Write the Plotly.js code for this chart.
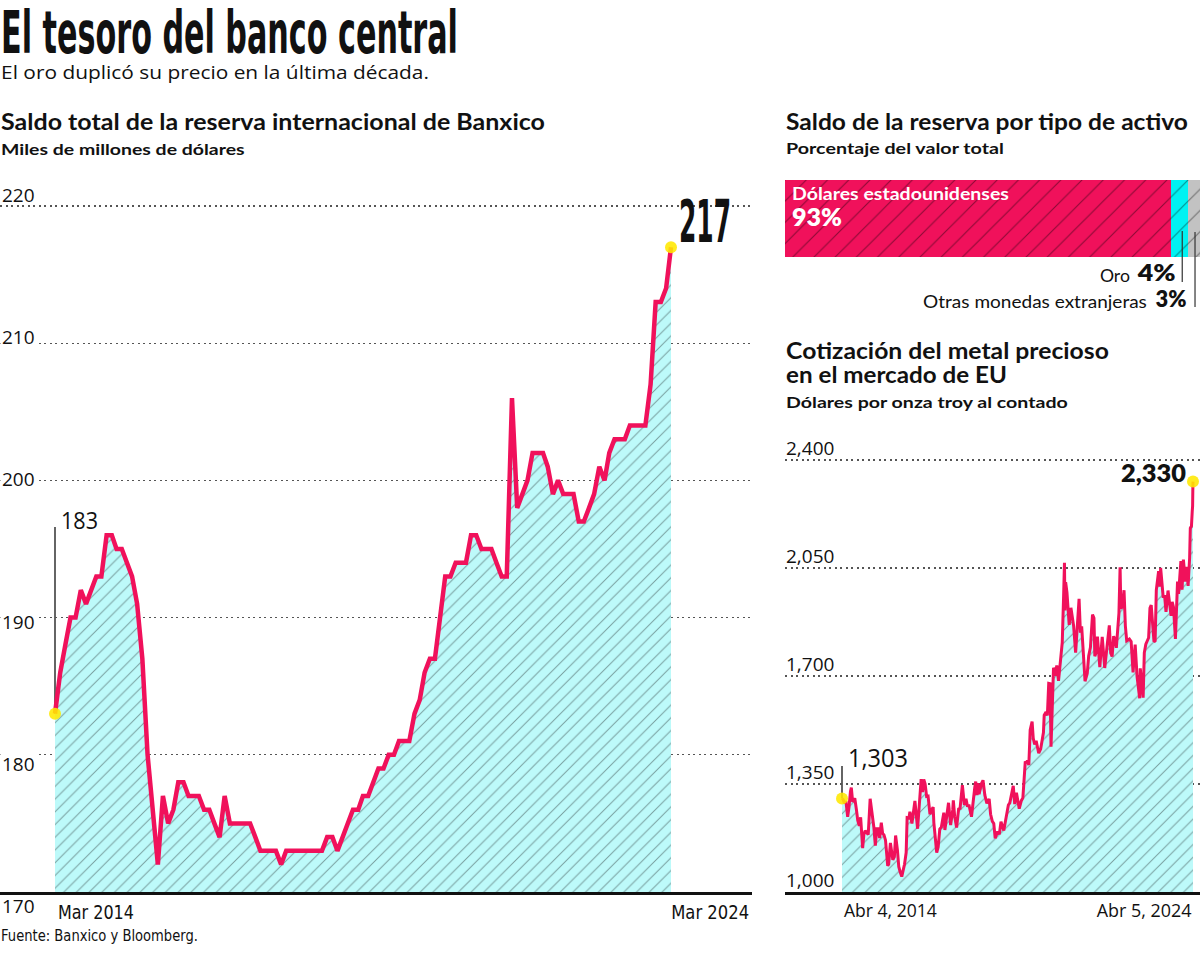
<!DOCTYPE html>
<html>
<head>
<meta charset="utf-8">
<script src="https://cdn.plot.ly/plotly-3.0.1.min.js"></script>
<style>
  html, body { margin: 0; padding: 0; background: #fff; }
  #chart { width: 1200px; height: 972px; }
</style>
</head>
<body>
<div id="chart"></div>
<script>
// ---------------- DATA ----------------
// Saldo total de la reserva internacional (miles de millones de dólares), mensual mar 2014 - mar 2024
const reserveStart = [2014, 3];
const reserveValues = [
  183, 186, 188, 190, 190, 192, 191, 192, 193, 193,
  196, 196, 195, 195, 194, 193, 191, 187, 180, 176,
  172, 177, 175, 176, 178, 178, 177, 177, 177, 176,
  176, 175, 174, 177, 175, 175, 175, 175, 175, 174,
  173, 173, 173, 173, 172, 173, 173, 173, 173, 173,
  173, 173, 173, 174, 174, 173, 174, 175, 176, 176,
  177, 177, 178, 179, 179, 180, 180, 181, 181, 181,
  183, 184, 186, 187, 187, 190, 193, 193, 194, 194,
  194, 196, 196, 195, 195, 195, 194, 193, 193, 206,
  198, 199, 200, 202, 202, 202, 201, 199, 200, 199,
  199, 199, 197, 197, 198, 199, 201, 200, 202, 203,
  203, 203, 204, 204, 204, 204, 207, 213, 213, 214,
  217
];
const reserveTickValues = [170, 180, 190, 200, 210, 220];
const reserveTickLabels = ['170', '180', '190', '200', '210', '220'];
const reserveAxisLabels = ['Mar 2014', 'Mar 2024'];

// Saldo de la reserva por tipo de activo (%)
const assetNames = ['Dólares estadounidenses', 'Oro', 'Otras monedas extranjeras'];
const assetShares = [93, 4, 3];

// Cotización del oro (dólares por onza troy al contado)
const goldDates = [
  '2014-04-04','2014-04-15','2014-05-01','2014-05-15','2014-06-02','2014-06-16','2014-07-01','2014-07-10','2014-07-24','2014-08-01',
  '2014-08-15','2014-09-02','2014-09-15','2014-10-01','2014-10-15','2014-11-05','2014-11-17','2014-12-01','2014-12-15',
  '2015-01-02','2015-01-22','2015-02-02','2015-02-16','2015-03-02','2015-03-17','2015-04-01','2015-04-15','2015-05-01','2015-05-18',
  '2015-06-01','2015-06-15','2015-07-01','2015-07-24','2015-08-03','2015-08-21','2015-09-01','2015-09-15','2015-10-01','2015-10-14',
  '2015-11-02','2015-11-16','2015-12-01','2015-12-17',
  '2016-01-04','2016-01-15','2016-02-01','2016-02-11','2016-03-01','2016-03-11','2016-04-01','2016-04-29','2016-05-02','2016-05-30',
  '2016-06-15','2016-06-24','2016-07-06','2016-07-20','2016-08-02','2016-08-16','2016-09-01','2016-09-16','2016-10-06','2016-10-20',
  '2016-11-08','2016-11-15','2016-12-01','2016-12-15','2016-12-30',
  '2017-01-16','2017-02-01','2017-02-27','2017-03-10','2017-03-31','2017-04-17','2017-05-09','2017-05-31','2017-06-06','2017-06-20',
  '2017-07-10','2017-07-31','2017-08-15','2017-09-08','2017-09-29','2017-10-16','2017-11-01','2017-11-15','2017-12-12','2017-12-29',
  '2018-01-15','2018-01-25','2018-02-08','2018-02-16','2018-03-01','2018-03-26','2018-04-11','2018-04-30','2018-05-21','2018-06-14',
  '2018-06-29','2018-07-17','2018-08-01','2018-08-16','2018-09-10','2018-09-28','2018-10-15','2018-11-13','2018-12-03','2018-12-31',
  '2019-01-15','2019-01-31','2019-02-20','2019-03-07','2019-03-25','2019-04-23','2019-05-15','2019-05-31','2019-06-20','2019-06-25',
  '2019-07-03','2019-07-17','2019-08-01','2019-08-15','2019-09-04','2019-09-16','2019-10-01','2019-10-16','2019-11-12','2019-12-02',
  '2019-12-31',
  '2020-01-08','2020-01-27','2020-02-10','2020-02-24','2020-03-09','2020-03-19','2020-04-01','2020-04-14','2020-05-01','2020-05-18',
  '2020-06-05','2020-06-30','2020-07-14','2020-07-28','2020-08-06','2020-08-11','2020-08-18','2020-09-01','2020-09-24','2020-10-12',
  '2020-10-30','2020-11-09','2020-11-30','2020-12-16',
  '2021-01-05','2021-01-19','2021-02-01','2021-02-18','2021-03-08','2021-03-31','2021-04-15','2021-05-03','2021-05-25','2021-06-09',
  '2021-06-18','2021-07-01','2021-07-15','2021-08-09','2021-08-26','2021-09-03','2021-09-29','2021-10-20','2021-11-08','2021-11-16',
  '2021-11-30','2021-12-15','2021-12-31',
  '2022-01-18','2022-01-28','2022-02-15','2022-02-24','2022-03-08','2022-03-16','2022-04-01','2022-04-18','2022-05-02','2022-05-16',
  '2022-06-13','2022-07-01','2022-07-21','2022-08-01','2022-08-12','2022-09-01','2022-09-28','2022-10-04','2022-10-21','2022-11-03',
  '2022-11-15','2022-12-01','2022-12-30',
  '2023-01-13','2023-01-26','2023-02-24','2023-03-08','2023-03-20','2023-04-13','2023-04-28','2023-05-04','2023-05-30','2023-06-15',
  '2023-06-29','2023-07-20','2023-08-08','2023-08-21','2023-09-01','2023-09-15','2023-10-05','2023-10-27','2023-11-07','2023-11-29',
  '2023-12-01','2023-12-04','2023-12-13','2023-12-27',
  '2024-01-17','2024-02-01','2024-02-14','2024-03-01','2024-03-08','2024-03-20','2024-03-28','2024-04-01','2024-04-03','2024-04-05'
];
const goldValues = [
  1303, 1300, 1288, 1294, 1244, 1275, 1326, 1338, 1292, 1295,
  1304, 1265, 1232, 1214, 1242, 1142, 1185, 1199, 1194,
  1186, 1302, 1276, 1226, 1209, 1150, 1205, 1205, 1175, 1225,
  1190, 1185, 1168, 1085, 1090, 1159, 1140, 1104, 1114, 1183,
  1136, 1082, 1065, 1050,
  1075, 1090, 1128, 1241, 1240, 1260, 1222, 1290, 1295, 1205,
  1287, 1317, 1366, 1324, 1365, 1351, 1310, 1311, 1252, 1265,
  1275, 1225, 1170, 1128, 1146,
  1204, 1210, 1257, 1201, 1245, 1289, 1217, 1266, 1297, 1245,
  1209, 1269, 1271, 1346, 1282, 1302, 1276, 1283, 1244, 1302,
  1338, 1358, 1314, 1353, 1317, 1352, 1362, 1314, 1287, 1302,
  1252, 1229, 1222, 1174, 1196, 1187, 1228, 1199, 1232, 1282,
  1289, 1320, 1344, 1285, 1322, 1270, 1296, 1305, 1397, 1423,
  1418, 1425, 1412, 1525, 1552, 1498, 1478, 1490, 1450, 1463,
  1517,
  1573, 1583, 1572, 1676, 1675, 1471, 1591, 1727, 1701, 1734,
  1684, 1781, 1809, 1959, 2067, 1912, 2004, 1970, 1866, 1921,
  1879, 1863, 1776, 1864,
  1950, 1840, 1861, 1776, 1683, 1708, 1765, 1792, 1899, 1888,
  1764, 1776, 1828, 1729, 1792, 1827, 1726, 1783, 1824, 1864,
  1775, 1763, 1829,
  1814, 1791, 1855, 1904, 2052, 1919, 1924, 1978, 1862, 1814,
  1820, 1812, 1712, 1772, 1802, 1697, 1628, 1725, 1657, 1630,
  1775, 1803, 1824,
  1920, 1930, 1811, 1814, 1978, 2040, 1990, 2050, 1958, 1958,
  1908, 1977, 1925, 1895, 1940, 1923, 1820, 2006, 1966, 2044,
  2072, 2058, 1980, 2077,
  2006, 2054, 1992, 2083, 2179, 2186, 2233, 2251, 2300, 2330
];
const goldTickValues = [1000, 1350, 1700, 2050, 2400];
const goldTickLabels = ['1,000', '1,350', '1,700', '2,050', '2,400'];
const goldAxisLabels = ['Abr 4, 2014', 'Abr 5, 2024'];

// ---------------- HELPERS / STYLE ----------------
const W = 1200, H = 972;
const PX = x => x / W;
const PY = y => 1 - y / H;
const NARROW = '"Liberation Sans Narrow", "DejaVu Sans Condensed", "Liberation Sans", sans-serif';
const SANS = 'Lato, "Open Sans", "Noto Sans", sans-serif';
const OPEN = '"Open Sans", "Noto Sans", sans-serif';
const PINK = '#F0115B';
const FILLBG = '#BDFAFA';
const HATCH = '#789F9F';
const YELLOW = 'rgba(255,232,0,0.88)';

const reserveDates = reserveValues.map((_, i) => {
  const m0 = reserveStart[1] - 1 + i;
  const y = reserveStart[0] + Math.floor(m0 / 12);
  const m = (m0 % 12) + 1;
  return y + '-' + String(m).padStart(2, '0') + '-01';
});
const last = a => a[a.length - 1];
const fmt = v => v.toLocaleString('en-US');
const msStr = ms => new Date(ms).toISOString().slice(0, 19).replace('T', ' ');

// pixel geometry of the panels (yTop is the pixel of value y1)
const L = { x0: 0, x1: 752, yTop: 206, yBot: 892, dataX0: 55, dataX1: 671, y0: 170, y1: 220, pad: 1 };
const G = { x0: 785, x1: 1200, yTop: 460, yBot: 892, dataX0: 842, dataX1: 1193, y0: 1000, y1: 2400, pad: 30 };
const B = { x0: 785, x1: 1200, yTop: 180, yBot: 257 };

const tL0 = Date.parse(reserveDates[0] + 'T00:00:00Z'), tL1 = Date.parse(last(reserveDates) + 'T00:00:00Z');
const kL = (tL1 - tL0) / (L.dataX1 - L.dataX0);
const leftRange = [msStr(tL0 - (L.dataX0 - L.x0) * kL), msStr(tL0 + (L.x1 - L.dataX0) * kL)];
const tG0 = Date.parse(goldDates[0] + 'T00:00:00Z'), tG1 = Date.parse(last(goldDates) + 'T00:00:00Z');
const kG = (tG1 - tG0) / (G.dataX1 - G.dataX0);
const goldRange = [msStr(tG0 - (G.dataX0 - G.x0) * kG), msStr(tG0 + (G.x1 - G.dataX0) * kG)];

const valL = py => L.y0 + (L.yBot - py) / (L.yBot - L.yTop) * (L.y1 - L.y0);
const valG = py => G.y0 + (G.yBot - py) / (G.yBot - G.yTop) * (G.y1 - G.y0);
// extend the top of each value axis a little so the top gridline is drawn
const pixL = (L.yBot - L.yTop) / (L.y1 - L.y0);
const pixG = (G.yBot - G.yTop) / (G.y1 - G.y0);
const topPxL = L.yTop - L.pad * pixL;
const topPxG = G.yTop - G.pad * pixG;

// ---------------- TRACES ----------------
const data = [
  {
    type: 'scatter', mode: 'lines', x: reserveDates, y: reserveValues, xaxis: 'x', yaxis: 'y',
    line: { color: PINK, width: 4.5 }, fill: 'tozeroy', fillcolor: FILLBG,
    fillpattern: { shape: '/', bgcolor: FILLBG, fgcolor: HATCH, size: 9, solidity: 0.11 },
    hoverinfo: 'skip'
  },
  {
    type: 'scatter', mode: 'markers', x: [reserveDates[0], last(reserveDates)], y: [reserveValues[0], last(reserveValues)],
    xaxis: 'x', yaxis: 'y', marker: { color: YELLOW, size: 12 }, cliponaxis: false
  },
  {
    type: 'scatter', mode: 'lines', x: goldDates, y: goldValues, xaxis: 'x2', yaxis: 'y2',
    line: { color: PINK, width: 3 }, fill: 'tozeroy', fillcolor: FILLBG,
    fillpattern: { shape: '/', bgcolor: FILLBG, fgcolor: HATCH, size: 9, solidity: 0.11 },
    hoverinfo: 'skip'
  },
  {
    type: 'scatter', mode: 'markers', x: [goldDates[0], last(goldDates)], y: [goldValues[0], last(goldValues)],
    xaxis: 'x2', yaxis: 'y2', marker: { color: YELLOW, size: 12 }, cliponaxis: false
  }
];
const barColors = ['#F0115B', '#00F2F2', '#C2C2C2'];
assetNames.forEach((n, i) => {
  data.push({
    type: 'bar', orientation: 'h', name: n, x: [assetShares[i]], y: [0], xaxis: 'x3', yaxis: 'y3', width: 1,
    marker: { color: barColors[i], line: { width: 0 },
      pattern: { shape: '/', bgcolor: barColors[i], fgcolor: 'rgba(0,0,0,0.42)', size: 15, solidity: 0.07, fillmode: 'replace' } },
    hoverinfo: 'skip'
  });
});

// ---------------- TEXT ----------------
const annotations = [];
const fits = {};
function txt(text, x, y, o = {}) {
  const a = {
    text,
    xref: o.xref || 'paper', yref: o.yref || 'paper',
    x: o.xref ? x : PX(x), y: o.yref ? y : PY(y),
    xanchor: o.anchor || 'left', yanchor: 'middle', showarrow: false,
    borderpad: o.pad !== undefined ? o.pad : 0,
    font: { family: o.family || SANS, size: o.size || 16, color: o.color || '#111', weight: o.weight || 400 }
  };
  if (o.xshift) a.xshift = o.xshift;
  if (o.yshift) a.yshift = o.yshift;
  if (o.bg) a.bgcolor = o.bg;
  if (o.fit) fits[annotations.length] = { w: o.fit, anchor: a.xanchor };
  annotations.push(a);
}

// headline
txt('El tesoro del banco central', 0, 33, { family: NARROW, size: 58, weight: 700, fit: 457 });
txt('El oro duplicó su precio en la última década.', 0, 72, { family: OPEN, size: 18, weight: 400, fit: 428 });

// left panel headings
txt('Saldo total de la reserva internacional de Banxico', 0, 121.5, { size: 22, weight: 700, fit: 544 });
txt('Miles de millones de dólares', 0, 149, { size: 15.5, weight: 700, fit: 244 });

// right panel headings
txt('Saldo de la reserva por tipo de activo', 785, 121.5, { size: 22, weight: 700, fit: 402 });
txt('Porcentaje del valor total', 785, 148, { size: 15.5, weight: 700, fit: 218 });
txt('Cotización del metal precioso', 785, 350, { size: 22, weight: 700, fit: 323 });
txt('en el mercado de EU', 785, 375, { size: 22, weight: 700, fit: 221 });
txt('Dólares por onza troy al contado', 785, 401.5, { size: 15.5, weight: 700, fit: 282 });

// bar labels
txt(assetNames[0], 791, 193.5, { size: 17, weight: 700, color: '#fff', fit: 217 });
txt(assetShares[0] + '%', 791, 216, { size: 24, weight: 800, color: '#fff', fit: 50 });
txt(assetNames[1], 1131, 275, { size: 17, weight: 400, anchor: 'right', fit: 30 });
txt(assetShares[1] + '%', 1177, 272, { size: 23, weight: 800, anchor: 'right', fit: 39 });
txt(assetNames[2], 1148, 301, { size: 17, weight: 400, anchor: 'right', fit: 224 });
txt(assetShares[2] + '%', 1188, 298, { size: 23, weight: 800, anchor: 'right', fit: 31 });

// left chart tick labels
reserveTickValues.forEach((v, i) => {
  txt(reserveTickLabels[i], 0, v, { yref: 'y', family: OPEN, size: 19, yshift: (v - 200) * 0.5 + 1,
    bg: (v === 220 || v === 170) ? null : '#ffffff', pad: 1 });
});
// left chart value labels
txt(String(reserveValues[0]), 60, 519, { family: OPEN, size: 24, fit: 37 });
txt(String(last(reserveValues)), 678, 222, { family: NARROW, size: 58, weight: 700, fit: 52 });
// left chart date labels
txt(reserveAxisLabels[0], reserveDates[0], 912, { xref: 'x', family: NARROW, size: 19, fit: 76, xshift: 2 });
txt(reserveAxisLabels[1], 750, 912, { family: NARROW, size: 19, anchor: 'right', fit: 78 });

// gold chart tick labels
goldTickValues.forEach((v, i) => {
  txt(goldTickLabels[i], 785, v, { yref: 'y2', family: OPEN, size: 19, yshift: 12 });
});
txt(fmt(goldValues[0]), 847, 757, { family: OPEN, size: 25, fit: 60 });
txt(fmt(last(goldValues)), 1187, 472, { size: 25, weight: 800, anchor: 'right', fit: 65 });
txt(goldAxisLabels[0], goldDates[0], 910, { xref: 'x2', family: OPEN, size: 19, fit: 93, xshift: 1 });
txt(goldAxisLabels[1], last(goldDates), 910, { xref: 'x2', family: OPEN, size: 19, anchor: 'right', fit: 95 });

// source
txt('Fuente: Banxico y Bloomberg.', 0, 936, { family: NARROW, size: 15, fit: 197 });

// ---------------- SHAPES ----------------
const shapes = [
  { type: 'line', xref: 'x', yref: 'y', x0: reserveDates[0], x1: reserveDates[0],
    y0: reserveValues[0], y1: valL(527), line: { color: '#111', width: 1.3 }, layer: 'below' },
  { type: 'line', xref: 'x2', yref: 'y2', x0: goldDates[0], x1: goldDates[0],
    y0: goldValues[0], y1: valG(766), line: { color: '#111', width: 1.3 }, layer: 'below' },
  { type: 'line', xref: 'x3', yref: 'paper',
    x0: assetShares[0] + assetShares[1] * 0.68, x1: assetShares[0] + assetShares[1] * 0.68,
    y0: PY(231), y1: PY(282), line: { color: '#333', width: 1.2 } },
  { type: 'line', xref: 'x3', yref: 'paper',
    x0: assetShares[0] + assetShares[1] + assetShares[2] * 0.6, x1: assetShares[0] + assetShares[1] + assetShares[2] * 0.6,
    y0: PY(232), y1: PY(307), line: { color: '#333', width: 1.2 } }
];

// ---------------- LAYOUT ----------------
const gridStyle = { showgrid: true, gridcolor: '#555', gridwidth: 1.4, griddash: '2px,3.5px' };
const layout = {
  width: W, height: H, margin: { l: 0, r: 0, t: 0, b: 0 },
  paper_bgcolor: '#fff', plot_bgcolor: 'rgba(0,0,0,0)', showlegend: false,
  barmode: 'stack',
  xaxis: { type: 'date', domain: [PX(L.x0), PX(L.x1)], range: leftRange, anchor: 'y',
    showgrid: false, zeroline: false, showticklabels: false, ticks: '',
    showline: true, linecolor: '#111', linewidth: 3 },
  yaxis: Object.assign({ domain: [PY(L.yBot), PY(topPxL)], range: [L.y0, L.y1 + L.pad], anchor: 'x',
    tickvals: reserveTickValues.filter(v => v !== L.y0), showticklabels: false, zeroline: false, ticks: '' }, gridStyle),
  xaxis2: { type: 'date', domain: [PX(G.x0), PX(G.x1)], range: goldRange, anchor: 'y2',
    showgrid: false, zeroline: false, showticklabels: false, ticks: '',
    showline: true, linecolor: '#111', linewidth: 3 },
  yaxis2: Object.assign({ domain: [PY(G.yBot), PY(topPxG)], range: [G.y0, G.y1 + G.pad], anchor: 'x2',
    tickvals: goldTickValues.filter(v => v !== G.y0), showticklabels: false, zeroline: false, ticks: '' }, gridStyle),
  xaxis3: { domain: [PX(B.x0), PX(B.x1)], range: [0, 100], anchor: 'y3', visible: false, fixedrange: true },
  yaxis3: { domain: [PY(B.yBot), PY(B.yTop)], range: [-0.5, 0.5], anchor: 'x3', visible: false, fixedrange: true },
  annotations, shapes
};

Plotly.newPlot('chart', data, layout, { staticPlot: true, displayModeBar: false }).then(() => {
  document.querySelectorAll('#chart g.annotation').forEach(g => {
    const i = +g.getAttribute('data-index');
    const f = fits[i];
    if (!f) return;
    const t = g.querySelector('text.annotation-text');
    if (!t) return;
    const w = t.getBBox().width;
    if (!w) return;
    t.style.transformBox = 'fill-box';
    t.style.transformOrigin = f.anchor === 'right' ? 'right center' : (f.anchor === 'center' ? 'center center' : 'left center');
    t.style.transform = 'scaleX(' + (f.w / w).toFixed(4) + ')';
  });
});
</script>
</body>
</html>
